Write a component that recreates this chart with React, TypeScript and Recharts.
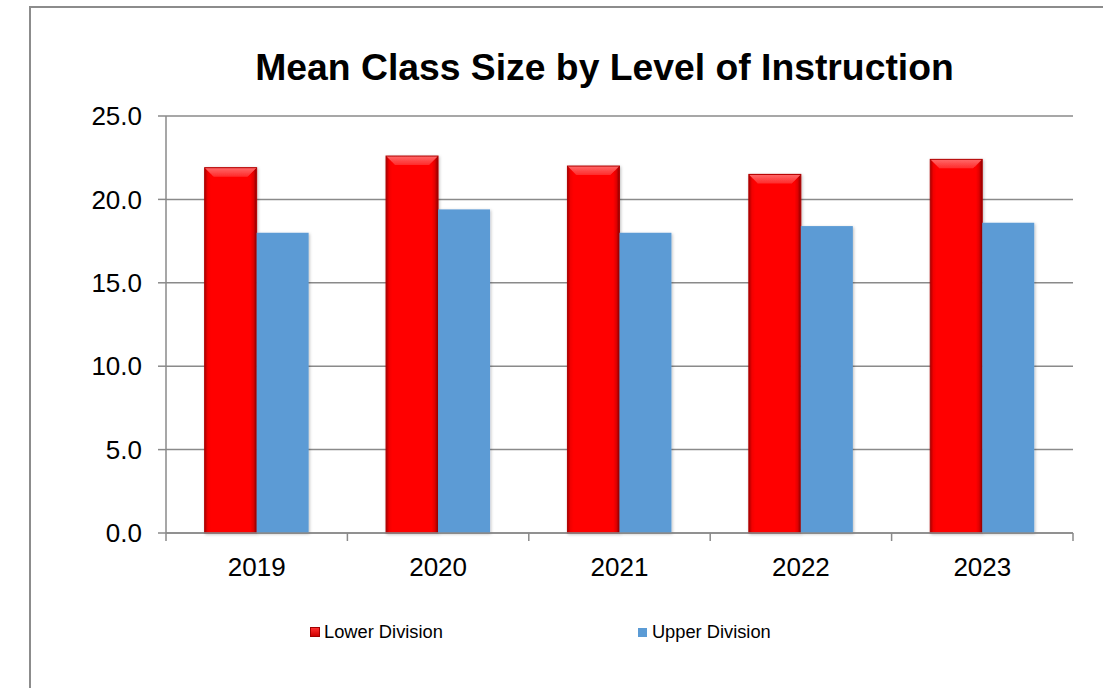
import React from "react";
import { BarChart, Bar, XAxis, YAxis, CartesianGrid, Legend } from "recharts";

const years = ["2019", "2020", "2021", "2022", "2023"];
const lowerDivision = [21.9, 22.6, 22.0, 21.5, 22.4];
const upperDivision = [18.0, 19.4, 18.0, 18.4, 18.6];
const yTicks = [0, 5, 10, 15, 20, 25];

const data = years.map((y, i) => ({ year: y, lower: lowerDivision[i], upper: upperDivision[i] }));

const FONT = "'Liberation Sans', Arial, sans-serif";
const GRID = "#8a8a8a";
const RED = "#ff0000";
const BLUE = "#5b9bd5";

const RedBar = (props: any) => {
  const { x, y, width, height } = props;
  if (!height || height <= 0) return null;
  const b = Math.min(9, height / 2, width / 2);
  return (
    <g filter="url(#barShadow)">
      <rect x={x} y={y} width={width} height={height} fill="url(#redSide)" />
      <polygon
        points={`${x},${y} ${x + width},${y} ${x + width - b},${y + b} ${x + b},${y + b}`}
        fill="url(#redTop)"
      />
      <rect x={x} y={y} width={width} height={height} fill="none" stroke="#b00000" strokeWidth={1} />
    </g>
  );
};

const BlueBar = (props: any) => {
  const { x, y, width, height } = props;
  if (!height || height <= 0) return null;
  return (
    <g filter="url(#barShadow)">
      <rect x={x} y={y} width={width} height={height} fill={BLUE} />
    </g>
  );
};

const XTick = (props: any) => {
  const { x, y, payload, index, visibleTicksCount } = props;
  const half = payload && payload.offset ? payload.offset : 90.7;
  const isLast = index === (visibleTicksCount ?? years.length) - 1;
  return (
    <g>
      <line x1={x - half} y1={y} x2={x - half} y2={y + 8} stroke={GRID} strokeWidth={1.5} />
      {isLast && <line x1={x + half} y1={y} x2={x + half} y2={y + 8} stroke={GRID} strokeWidth={1.5} />}
      <text x={x} y={y + 34} textAnchor="middle" dominantBaseline="central" fontFamily={FONT} fontSize={26} fill="#000">
        {payload.value}
      </text>
    </g>
  );
};

const LegendContent = () => (
  <div style={{ display: "flex", alignItems: "center", height: 30, paddingLeft: 310, fontFamily: FONT, fontSize: 18.3, color: "#000" }}>
    <div style={{ display: "flex", alignItems: "center", marginRight: 195 }}>
      <span style={{ display: "inline-block", width: 10, height: 10, background: "linear-gradient(#ff3030, #d00000)", border: "1px solid #a00000", boxSizing: "border-box", marginRight: 4 }} />
      <span>Lower Division</span>
    </div>
    <div style={{ display: "flex", alignItems: "center" }}>
      <span style={{ display: "inline-block", width: 9, height: 9, background: BLUE, marginRight: 5 }} />
      <span>Upper Division</span>
    </div>
  </div>
);

export default function App() {
  return (
    <div style={{ position: "fixed", left: 0, top: 0, width: 1103, height: 688, overflow: "hidden", background: "#fff" }}>
      <style>{`html, body { margin: 0; padding: 0; overflow: hidden; }`}</style>
      <div style={{ position: "absolute", left: 29, top: 6, width: 2, height: 682, background: "#8c8c8c" }} />
      <div style={{ position: "absolute", left: 29, top: 6, width: 1074, height: 2, background: "#8c8c8c" }} />
      <div style={{ position: "absolute", left: 0, top: 0 }}>
        <BarChart
          width={1103}
          height={688}
          data={data}
          margin={{ top: 116, right: 30, left: 0, bottom: 41 }}
          barCategoryGap="21.3%"
          barGap={0}
        >
          <defs>
            <linearGradient id="redSide" x1="0" y1="0" x2="1" y2="0">
              <stop offset="0%" stopColor="#a80000" />
              <stop offset="6%" stopColor="#f20000" />
              <stop offset="12%" stopColor={RED} />
              <stop offset="88%" stopColor={RED} />
              <stop offset="94%" stopColor="#e00000" />
              <stop offset="100%" stopColor="#8a0000" />
            </linearGradient>
            <linearGradient id="redTop" x1="0" y1="0" x2="0" y2="1">
              <stop offset="0%" stopColor="#ff6a6a" />
              <stop offset="100%" stopColor="#ff2a2a" />
            </linearGradient>
            <filter id="barShadow" x="-20%" y="-10%" width="140%" height="120%">
              <feDropShadow dx="1" dy="1" stdDeviation="1.5" floodColor="#000" floodOpacity="0.25" />
            </filter>
          </defs>
          <text x={604.5} y={80} textAnchor="middle" fontFamily={FONT} fontSize={37.3} fontWeight="bold" fill="#000">
            Mean Class Size by Level of Instruction
          </text>
          <CartesianGrid horizontal vertical={false} stroke={GRID} strokeWidth={1.5} />
          <XAxis
            dataKey="year"
            height={84}
            tickLine={false}
            tickSize={0}
            tickMargin={0}
            axisLine={{ stroke: GRID, strokeWidth: 1.5 }}
            tick={<XTick />}
            interval={0}
          />
          <YAxis
            width={166}
            domain={[0, 25]}
            ticks={yTicks}
            interval={0}
            tickFormatter={(v: number) => v.toFixed(1)}
            tickSize={8}
            tickMargin={16}
            tickLine={{ stroke: GRID, strokeWidth: 1.5 }}
            axisLine={{ stroke: GRID, strokeWidth: 1.5 }}
            tick={{ fontFamily: FONT, fontSize: 26, fill: "#000" }}
          />
          <Legend verticalAlign="bottom" height={30} content={<LegendContent />} />
          <Bar dataKey="lower" name="Lower Division" fill={RED} shape={<RedBar />} isAnimationActive={false} />
          <Bar dataKey="upper" name="Upper Division" fill={BLUE} shape={<BlueBar />} isAnimationActive={false} />
        </BarChart>
      </div>
    </div>
  );
}
